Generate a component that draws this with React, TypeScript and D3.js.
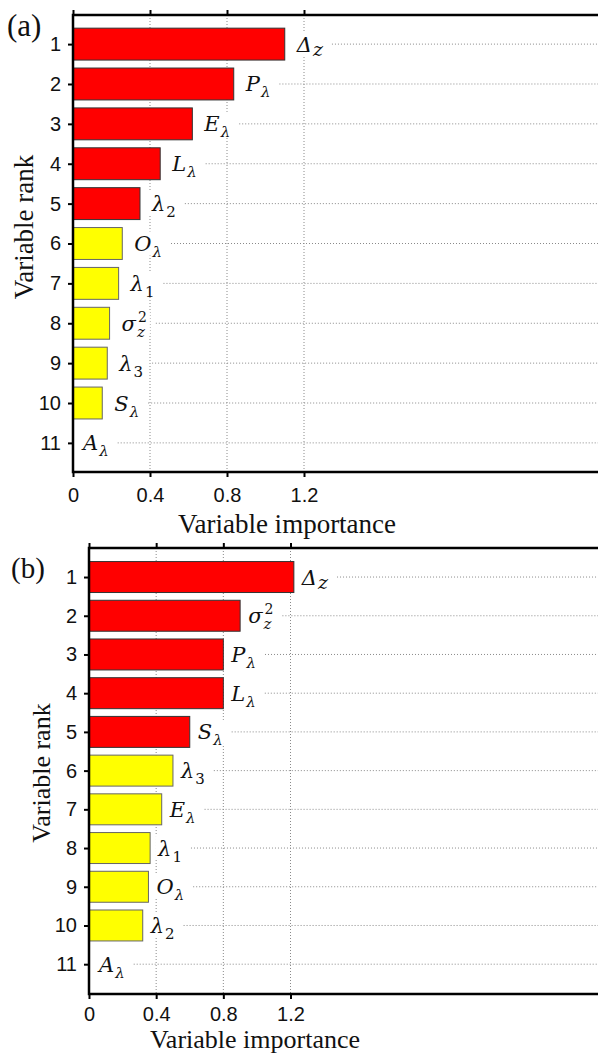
import { useEffect, useRef } from "react";
import * as d3 from "d3";

// ranks (y tick labels) and x tick values
const ranks = [1, 2, 3, 4, 5, 6, 7, 8, 9, 10, 11];
const xTicks = [0, 0.4, 0.8, 1.2];

// panel (a)
const labelsA = ["Δ_z", "P_λ", "E_λ", "L_λ", "λ_2", "O_λ", "λ_1", "σ_z^2", "λ_3", "S_λ", "A_λ"];
const valuesA = [1.1, 0.835, 0.62, 0.453, 0.348, 0.256, 0.237, 0.19, 0.178, 0.152, 0];

// panel (b)
const labelsB = ["Δ_z", "σ_z^2", "P_λ", "L_λ", "S_λ", "λ_3", "E_λ", "λ_1", "O_λ", "λ_2", "A_λ"];
const valuesB = [1.22, 0.9, 0.8, 0.8, 0.6, 0.5, 0.433, 0.364, 0.354, 0.32, 0];

const nTop = 5; // first five bars are red
const W = 598;

type Frame = {
  left: number;
  top: number;
  bottom: number;
  x12: number; // pixel of 1.2
  yDomain: [number, number];
  gap: number;
  pad: number;
};

function parseLabel(s: string) {
  const [main, rest] = s.split("_");
  const [sub, sup] = (rest || "").split("^");
  return { main, sub, sup };
}

const labelFont = "DejaVu Serif";

function Panel({ labels, values, frame }: { labels: string[]; values: number[]; frame: Frame }) {
  const ref = useRef<SVGGElement>(null);

  useEffect(() => {
    const g = d3.select(ref.current);
    g.selectAll("*").remove();
    const { left, top, bottom, x12, yDomain, gap, pad } = frame;
    const x = d3.scaleLinear().domain([0, 1.2]).range([left, x12]);
    const y = d3.scaleLinear().domain(yDomain).range([top, bottom]);
    const band = y(2) - y(1);
    const barH = band * 0.8;

    // vertical grid
    g.append("g")
      .selectAll("line")
      .data(xTicks.slice(1))
      .join("line")
      .attr("x1", (d) => x(d))
      .attr("x2", (d) => x(d))
      .attr("y1", top)
      .attr("y2", bottom)
      .attr("stroke", "#8a8a8a")
      .attr("stroke-width", 1)
      .attr("stroke-dasharray", "1 2");

    // bars
    g.append("g")
      .selectAll("rect")
      .data(values)
      .join("rect")
      .attr("x", x(0))
      .attr("y", (d, i) => y(ranks[i]) - barH / 2)
      .attr("width", (d) => x(d) - x(0))
      .attr("height", barH)
      .attr("fill", (d, i) => (i < nTop ? "#ff0000" : "#ffff00"))
      .attr("stroke", (d, i) => (i < nTop ? "#333" : "#666"))
      .attr("stroke-width", 1)
      .style("display", (d) => (d > 0 ? null : "none"));

    // labels + horizontal grid starting after the label
    const lab = g.append("g");
    labels.forEach((s, i) => {
      const { main, sub, sup } = parseLabel(s);
      const cy = y(ranks[i]);
      const lx = x(values[i]) + (values[i] > 0 ? gap : 10);
      const base = cy + 7.5;
      const lg = lab.append("g");
      const bg = lg.append("rect").attr("fill", "#fff");
      const t = lg
        .append("text")
        .attr("x", lx)
        .attr("y", base)
        .attr("font-family", labelFont)
        .attr("font-style", "italic")
        .attr("font-size", 21)
        .attr("fill", "#111")
        .text(main);
      const w = (t.node() as SVGTextElement).getComputedTextLength();
      let end = lx + w;
      if (sub) {
        const big = sub === "z" && !sup;
        const digit = /[0-9]/.test(sub);
        const st = lg
          .append("text")
          .attr("x", lx + w + 1)
          .attr("y", base + (big ? 4 : 6))
          .attr("font-family", labelFont)
          .attr("font-style", digit ? "normal" : "italic")
          .attr("font-size", big ? 19 : 15)
          .attr("fill", "#111")
          .text(sub);
        end = Math.max(end, lx + w + 1 + (st.node() as SVGTextElement).getComputedTextLength());
      }
      if (sup) {
        const pt = lg
          .append("text")
          .attr("x", lx + w + 2)
          .attr("y", base - 9)
          .attr("font-family", labelFont)
          .attr("font-size", 14)
          .attr("fill", "#111")
          .text(sup);
        end = Math.max(end, lx + w + 2 + (pt.node() as SVGTextElement).getComputedTextLength());
      }
      bg.attr("x", lx - 3)
        .attr("y", cy - 12)
        .attr("width", end - lx + 6)
        .attr("height", 24);
      lab
        .insert("line", ":first-child")
        .attr("x1", end + 9)
        .attr("x2", W)
        .attr("y1", cy)
        .attr("y2", cy)
        .attr("stroke", "#8a8a8a")
        .attr("stroke-width", 1)
        .attr("stroke-dasharray", "1 2");
    });

    // axes
    const yAxis = d3
      .axisLeft(y)
      .tickValues(ranks)
      .tickSize(5)
      .tickSizeOuter(0)
      .tickPadding(7)
      .tickFormat((d) => String(d));
    const ya = g.append("g").attr("transform", `translate(${left},0)`).call(yAxis);

    const xAxis = d3
      .axisBottom(x)
      .tickValues(xTicks)
      .tickSize(5)
      .tickPadding(pad)
      .tickFormat((d) => (+d === 0 ? "0" : d3.format(".1f")(+d)));
    const xa = g.append("g").attr("transform", `translate(0,${bottom})`).call(xAxis);

    const xTop = d3.axisTop(x).tickValues(xTicks).tickSize(5).tickFormat(() => "");
    const xt = g.append("g").attr("transform", `translate(0,${top})`).call(xTop);

    [ya, xa, xt].forEach((a) => {
      a.select(".domain").remove();
      a.selectAll("line").attr("stroke", "#000").attr("stroke-width", 2);
      a.selectAll("text")
        .attr("font-family", "Liberation Sans")
        .attr("font-size", 20)
        .attr("fill", "#111");
    });

    // frame (open on the right, runs to the page edge)
    g.append("path")
      .attr("d", `M${W},${top}H${left}V${bottom}H${W}`)
      .attr("fill", "none")
      .attr("stroke", "#000")
      .attr("stroke-width", 2.5);
  }, [labels, values, frame]);

  return <g ref={ref} />;
}

const frameA: Frame = { left: 73, top: 15, bottom: 472, x12: 304, yDomain: [0.27, 11.73], gap: 12, pad: 11 };
const frameB: Frame = { left: 89, top: 548, bottom: 994, x12: 290.5, yDomain: [0.25, 11.77], gap: 8, pad: 8 };

export default function App() {
  const serif = "Liberation Serif";
  return (
    <svg width={W} height={1053} style={{ position: "absolute", left: 0, top: 0, background: "#fff" }}>
      <rect width={W} height={1053} fill="#fff" />
      <Panel labels={labelsA} values={valuesA} frame={frameA} />
      <Panel labels={labelsB} values={valuesB} frame={frameB} />

      <text x={7} y={36} fontFamily={serif} fontSize={31} fill="#111">(a)</text>
      <text x={11} y={578} fontFamily={serif} fontSize={29} fill="#111">(b)</text>

      <text x={287} y={533} textAnchor="middle" fontFamily={serif} fontSize={27} fill="#111">
        Variable importance
      </text>
      <text x={255} y={1048} textAnchor="middle" fontFamily={serif} fontSize={26} fill="#111">
        Variable importance
      </text>

      <text transform="translate(33,227) rotate(-90)" textAnchor="middle" fontFamily={serif} fontSize={27} fill="#111">
        Variable rank
      </text>
      <text transform="translate(50,773) rotate(-90)" textAnchor="middle" fontFamily={serif} fontSize={26} fill="#111">
        Variable rank
      </text>
    </svg>
  );
}
